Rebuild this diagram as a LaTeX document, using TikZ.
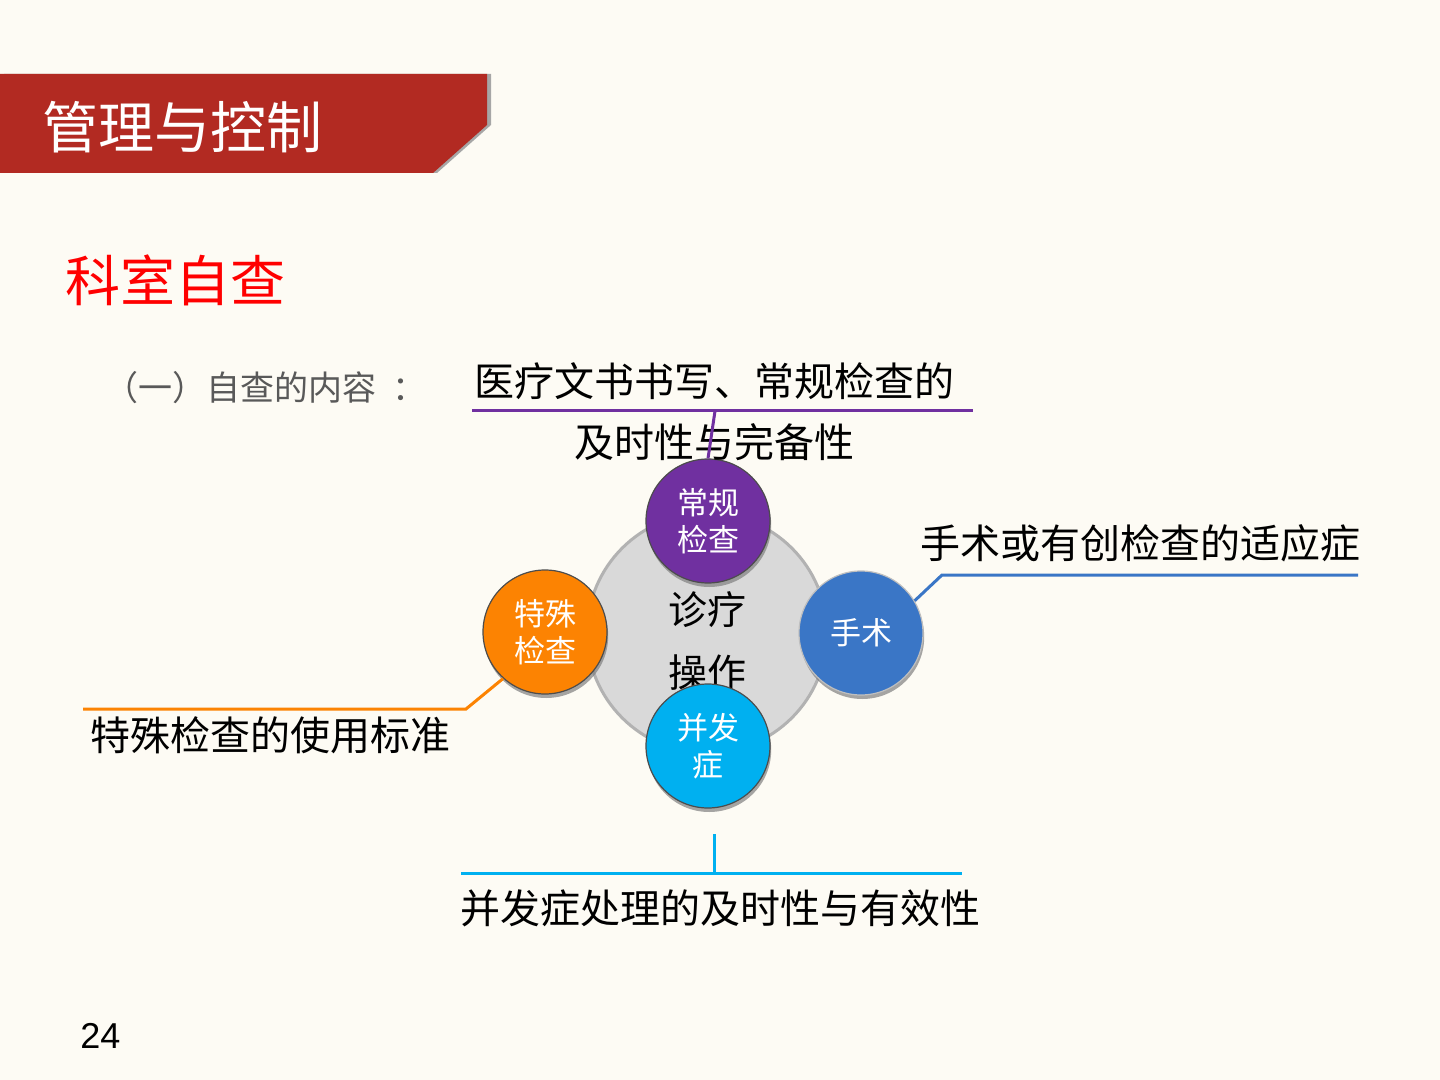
\documentclass[tikz,border=0pt]{standalone}
\usepackage{fontspec}
\setmainfont{Liberation Sans}
\newfontfamily\cjk{Noto Sans CJK SC}
\usetikzlibrary{shadows}

\definecolor{paper}{RGB}{253,251,244}
\definecolor{banner}{RGB}{178,42,34}
\definecolor{subgrey}{RGB}{89,89,89}
\definecolor{routinecol}{RGB}{112,48,160}
\definecolor{specialcol}{RGB}{252,131,2}
\definecolor{surgerycol}{RGB}{58,118,198}
\definecolor{compliccol}{RGB}{0,176,240}

\tikzstyle{bubble} = [circle, minimum size=62pt, inner sep=0pt, draw=black!70, line width=0.6pt, text=white, align=center, font=\cjk\fontsize{15.5}{18.5}\selectfont, drop shadow={shadow xshift=0.6pt, shadow yshift=-2pt, fill=black!50, opacity=0.7}]
\tikzstyle{note} = [inner sep=0pt, font=\cjk\fontsize{20}{24}\selectfont]
\tikzstyle{lead} = [line width=1.5pt]

\begin{document}
\begin{tikzpicture}[x=0.5pt, y=-0.5pt]
\useasboundingbox[fill=paper] (0,0) rectangle (1440,1080);
%begin banner
\fill[black!35] (4,74) -- (491,74) -- (491,125) -- (437,173) -- (4,173) -- cycle;
\fill[banner] (0,74) -- (487,74) -- (487,125) -- (433,173) -- (0,173) -- cycle;
\node[anchor=west, inner sep=0pt, text=white, font=\cjk\fontsize{28}{30}\selectfont] (title) at (42,127) {管理与控制};
%end banner
\node[anchor=west, inner sep=0pt, text=red, font=\cjk\fontsize{27.5}{30}\selectfont] (heading) at (65,280) {科室自查};
\node[anchor=west, inner sep=0pt, text=subgrey, font=\cjk\fontsize{17}{19}\selectfont] (intro) at (104,388) {（一）自查的内容\kern8pt：};
%begin hub
\node[circle, minimum size=120pt, inner sep=0pt, fill=black!15, draw=black!30, line width=1.5pt] (hub) at (707,633) {};
\node[align=center, inner sep=0pt, font=\cjk\fontsize{19.5}{31.5}\selectfont] (hubtext) at (707,641) {诊疗\\操作};
\node[bubble, fill=specialcol] (special) at (545,632) {特殊\\检查};
\node[bubble, fill=surgerycol, draw=black!25] (surgery) at (861,633) {手术};
\node[bubble, fill=routinecol] (routine) at (708,521) {常规\\检查};
\node[bubble, fill=compliccol] (complic) at (708,746) {并发\\症};
%end hub
%begin top note
\node[note] (docsA) at (714,381) {医疗文书书写、常规检查的};
\node[note] (docsB) at (714,442) {及时性与完备性};
\coordinate (docsL) at (472,411);
\coordinate (docsR) at (973,411);
\coordinate (docsT) at (715,411);
\draw[lead, routinecol] (docsL) -- (docsR);
\draw[lead, routinecol] (docsT) -- (routine.north);
%end top note
%begin right note
\node[note] (surgnote) at (1140,543) {手术或有创检查的适应症};
\coordinate (surgK) at (942,575);
\coordinate (surgR) at (1358,575);
\draw[lead, surgerycol] (surgery.31) -- (surgK) -- (surgR);
%end right note
%begin left note
\node[note] (specnote) at (270,735) {特殊检查的使用标准};
\coordinate (specK) at (466,709);
\coordinate (specL) at (83,709);
\draw[lead, specialcol] (special.228) -- (specK) -- (specL);
%end left note
%begin bottom note
\node[note] (compnote) at (720,908) {并发症处理的及时性与有效性};
\coordinate (compL) at (461,873);
\coordinate (compR) at (962,873);
\coordinate (compT) at (714,834);
\coordinate (compB) at (714,873);
\draw[lead, compliccol] (compL) -- (compR);
\draw[lead, compliccol] (compT) -- (compB);
%end bottom note
\node[anchor=west, inner sep=0pt, font=\fontsize{18}{20}\selectfont] (pageno) at (80,1036) {24};
\end{tikzpicture}
\end{document}
